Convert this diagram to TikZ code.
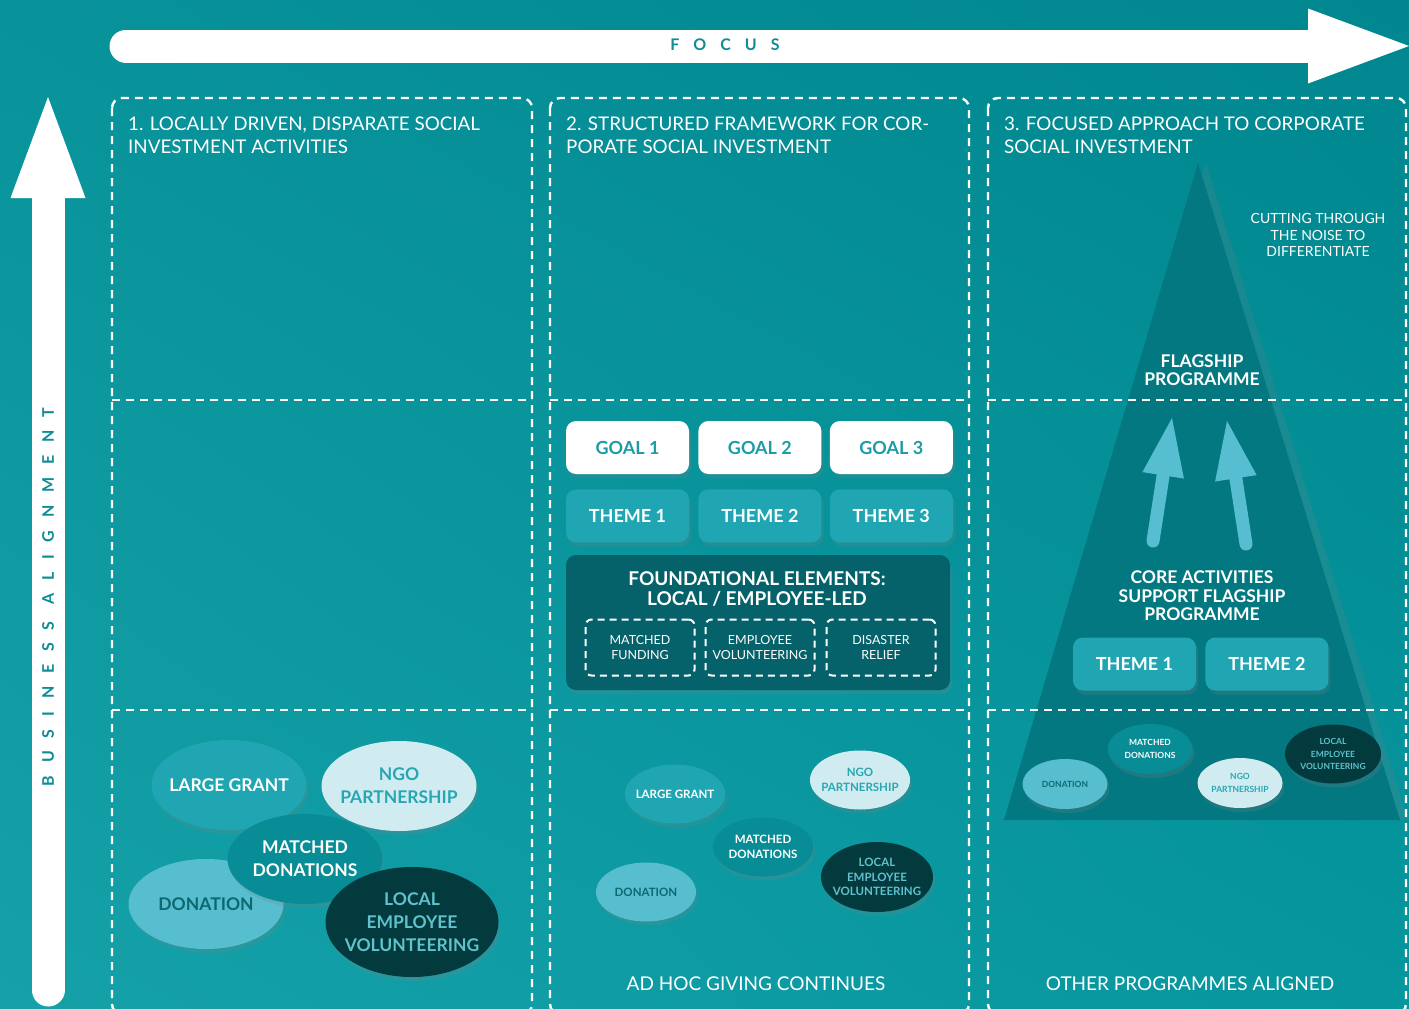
\documentclass[tikz,border=0pt]{standalone}
\usepackage{fontspec}
\setmainfont{Lato}
\newfontfamily\focusfont[LetterSpace=88]{Lato}
\newfontfamily\alignfont[LetterSpace=80]{Lato}
\usetikzlibrary{arrows.meta,shapes.geometric,shadows,shadings,positioning}

\definecolor{bgtl}{RGB}{8,146,154}
\definecolor{bgtr}{RGB}{0,134,142}
\definecolor{bgbl}{RGB}{22,161,169}
\definecolor{bgbr}{RGB}{6,150,158}
\definecolor{axistext}{RGB}{16,140,150}
\definecolor{goaltext}{RGB}{28,156,166}
\definecolor{midteal}{RGB}{31,166,178}
\definecolor{paleblue}{RGB}{208,236,241}
\definecolor{ngotext}{RGB}{40,166,178}
\definecolor{matchteal}{RGB}{8,140,149}
\definecolor{donblue}{RGB}{86,190,206}
\definecolor{dontext}{RGB}{14,104,112}
\definecolor{darkbub}{RGB}{3,58,62}
\definecolor{localtext}{RGB}{96,194,204}
\definecolor{founddark}{RGB}{5,98,106}
\definecolor{trifill}{RGB}{4,120,128}
\definecolor{arrowblue}{RGB}{86,190,208}

\tikzset{
  dashbox/.style={draw=white, line width=2.4pt, dash pattern=on 8pt off 6pt, rounded corners=10pt},
  dashline/.style={draw=white, line width=2.4pt, dash pattern=on 8pt off 6pt},
  axisarrow/.style={draw=white, line width=33pt, line cap=round,
    -{Triangle[length=101pt, width=75pt, line width=0pt]}},
  axislabel/.style={text=axistext, font=\bfseries\fontsize{16}{18}\selectfont, inner sep=0pt},
  uparrow/.style={draw=arrowblue, line width=13pt, line cap=round,
    -{Triangle[length=58pt, width=42pt, line width=0pt]}},
  coltitle/.style={text=white, font=\fontsize{18.8}{22.5}\selectfont, align=left, inner sep=0pt, anchor=north west},
  plainlabel/.style={text=white, font=\fontsize{14}{16.5}\selectfont, align=center, inner sep=0pt},
  boldlabel/.style={text=white, font=\bfseries\fontsize{17.5}{18.5}\selectfont, align=center, inner sep=0pt},
  footlabel/.style={text=white, font=\fontsize{19}{21}\selectfont, inner sep=0pt},
  softshadow/.style={drop shadow={shadow xshift=2pt, shadow yshift=-4pt, opacity=.22}},
  goalbox/.style={rectangle, rounded corners=10pt, fill=white, text=goaltext,
    minimum width=123pt, minimum height=53pt, inner sep=0pt,
    font=\bfseries\fontsize{18}{20}\selectfont, softshadow},
  themebox/.style={goalbox, fill=midteal, text=white},
  foundbox/.style={rectangle, rounded corners=10pt, fill=founddark, minimum width=384pt,
    minimum height=135pt, softshadow},
  elembox/.style={rectangle, draw=white, line width=2pt, dash pattern=on 7pt off 5pt,
    rounded corners=6pt, minimum width=109pt, minimum height=56pt, inner sep=0pt,
    align=center, text=white, font=\fontsize{12.5}{15}\selectfont},
  bubble/.style={ellipse, inner sep=-30pt, align=center, softshadow},
  bigbubble/.style={bubble, minimum width=155pt, minimum height=90pt, font=\bfseries\fontsize{17.5}{23}\selectfont},
  midbubble/.style={bubble, minimum width=100pt, minimum height=59pt, font=\bfseries\fontsize{11.5}{14.5}\selectfont},
  smallbubble/.style={bubble, minimum width=85pt, minimum height=50pt, font=\bfseries\fontsize{8.5}{12.5}\selectfont},
  grantbub/.style={fill=midteal, text=white},
  ngobub/.style={fill=paleblue, text=ngotext},
  matchbub/.style={fill=matchteal, text=white},
  donbub/.style={fill=donblue, text=dontext},
  localbub/.style={fill=darkbub, text=localtext},
}

\begin{document}
\begin{tikzpicture}[x=1pt, y=-1pt]
\useasboundingbox (0,0) rectangle (1409,1009);
\shade[upper left=bgtl, upper right=bgtr, lower left=bgbl, lower right=bgbr] (0,0) rectangle (1409,1009);

% axes
\coordinate (fstart) at (126,46);
\coordinate (fend) at (1409,46);
\draw[axisarrow] (fstart) -- (fend);
\node[axislabel] (focus) at (725,45) {\focusfont FOCUS};
\coordinate (bstart) at (48,990);
\coordinate (bend) at (48,97);
\draw[axisarrow] (bstart) -- (bend);
\node[axislabel, rotate=90] (alignment) at (48,597) {\alignfont BUSINESS ALIGNMENT};

% pyramid behind column 3
\fill[trifill, drop shadow={shadow xshift=8pt, shadow yshift=0pt, opacity=.18}]
  (1198,163) -- (1400,820) -- (1004,820) -- cycle;

% columns and rows
\foreach \l/\r in {112/532, 550/969, 988/1406} {
  \draw[dashbox] (\l,98) rectangle (\r,1014);
  \draw[dashline] (\l,400) -- (\r,400);
  \draw[dashline] (\l,710) -- (\r,710);
}

\node[coltitle] (title1) at (128,117) {1. LOCALLY DRIVEN, DISPARATE SOCIAL\\INVESTMENT ACTIVITIES};
\node[coltitle] (title2) at (566,117) {2. STRUCTURED FRAMEWORK FOR COR-\\PORATE SOCIAL INVESTMENT};
\node[coltitle] (title3) at (1004,117) {3. FOCUSED APPROACH TO CORPORATE\\SOCIAL INVESTMENT};

% column 1
\node[bigbubble, grantbub] (grant1) at (229,785) {LARGE GRANT};
\node[bigbubble, ngobub] (ngo1) at (399,786) {NGO\\PARTNERSHIP};
\node[bigbubble, donbub] (don1) at (206,904) {DONATION};
\node[bigbubble, matchbub] (match1) at (305,859) {MATCHED\\DONATIONS};
\node[bigbubble, localbub, minimum width=173pt, minimum height=110pt] (local1) at (412,922) {LOCAL\\EMPLOYEE\\VOLUNTEERING};

% column 2
\node[goalbox] (goal1) at (627.5,447.5) {GOAL 1};
\node[goalbox, right=9pt of goal1] (goal2) {GOAL 2};
\node[goalbox, right=8pt of goal2] (goal3) {GOAL 3};
\node[themebox, below=15pt of goal1] (theme1) {THEME 1};
\node[themebox, below=15pt of goal2] (theme2) {THEME 2};
\node[themebox, below=15pt of goal3] (theme3) {THEME 3};

\node[foundbox] (found) at (758,622.5) {};
\node[boldlabel, font=\bfseries\fontsize{19}{19.5}\selectfont] (foundtitle) at (757,589) {FOUNDATIONAL ELEMENTS:\\LOCAL / EMPLOYEE-LED};
\node[elembox] (elem1) at (640,647.5) {MATCHED\\FUNDING};
\node[elembox] (elem2) at (760,647.5) {EMPLOYEE\\VOLUNTEERING};
\node[elembox] (elem3) at (881,647.5) {DISASTER\\RELIEF};

\node[midbubble, grantbub] (grant2) at (675,794) {LARGE GRANT};
\node[midbubble, ngobub] (ngo2) at (860,780) {NGO\\PARTNERSHIP};
\node[midbubble, matchbub] (match2) at (763,847) {MATCHED\\DONATIONS};
\node[midbubble, donbub] (don2) at (646,892) {DONATION};
\node[midbubble, localbub, minimum width=112pt, minimum height=70pt] (local2) at (877,877) {LOCAL\\EMPLOYEE\\VOLUNTEERING};
\node[footlabel] (adhoc) at (756,984) {AD HOC GIVING CONTINUES};

% column 3
\node[plainlabel] (noise) at (1318,235) {CUTTING THROUGH\\THE NOISE TO\\DIFFERENTIATE};
\node[boldlabel] (flagship) at (1202,370) {FLAGSHIP\\PROGRAMME};
\coordinate (lift1s) at (1153,541);
\coordinate (lift1e) at (1172,418);
\coordinate (lift2s) at (1246,544);
\coordinate (lift2e) at (1227,421);
\draw[uparrow] (lift1s) -- (lift1e);
\draw[uparrow] (lift2s) -- (lift2e);
\node[boldlabel] (core) at (1202,596) {CORE ACTIVITIES\\SUPPORT FLAGSHIP\\PROGRAMME};
\node[themebox] (ctheme1) at (1134.5,664) {THEME 1};
\node[themebox, right=9pt of ctheme1] (ctheme2) {THEME 2};

\node[smallbubble, donbub] (don3) at (1065,784) {DONATION};
\node[smallbubble, matchbub] (match3) at (1150,749) {MATCHED\\DONATIONS};
\node[smallbubble, ngobub] (ngo3) at (1240,783) {NGO\\PARTNERSHIP};
\node[smallbubble, localbub, minimum width=96pt, minimum height=59pt] (local3) at (1333,754) {LOCAL\\EMPLOYEE\\VOLUNTEERING};
\node[footlabel] (aligned) at (1190,984) {OTHER PROGRAMMES ALIGNED};
\end{tikzpicture}
\end{document}
